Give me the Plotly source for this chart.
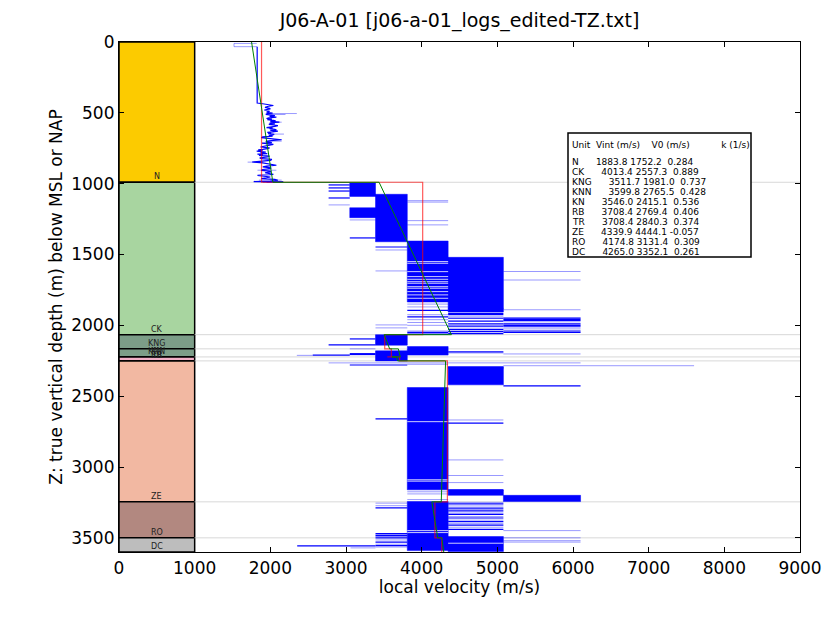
"""
Velocity-depth plot for well J06-A-01: stratigraphic column, sonic-derived
local velocity, interval velocities (Vint) and V0 + k*z trends per unit.
"""

import plotly.graph_objects as go

TITLE = "J06-A-01 [j06-a-01_logs_edited-TZ.txt]"

# stratigraphic units (depth m below MSL, velocity m/s)
unit_names = ["N", "CK", "KNG", "KNN", "KN", "RB", "TR", "ZE", "RO", "DC"]
unit_top = [0, 990, 2066, 2166, 2223, 2223, 2251, 2251, 3246, 3500]
unit_base = [990, 2066, 2166, 2223, 2223, 2251, 2251, 3246, 3500, 3600]
unit_colors = ["#FCCB00", "#A8D5A0", "#7C9D88", "#7C9D88", "#7C9D88",
               "#F2AFC6", "#F2AFC6", "#F2B8A2", "#B28880", "#BDBDBD"]
unit_vint = [1883.8, 4013.4, 3511.7, 3599.8, 3546.0, 3708.4, 3708.4, 4339.9, 4174.8, 4265.0]
unit_v0 = [1752.2, 2557.3, 1981.0, 2765.5, 2415.1, 2769.4, 2840.3, 4444.1, 3131.4, 3352.1]
unit_k = [0.284, 0.889, 0.737, 0.428, 0.536, 0.406, 0.374, -0.057, 0.309, 0.261]

# green V0+k*z trend, velocity read at top and base of each unit
trend_top = [1752, 3437, 3504, 3692, 3607, 3672, 3682, 4316, 4134, 4266]
trend_base = [2033, 4393, 3577, 3717, 3607, 3683, 3682, 4259, 4213, 4292]

# boundaries drawn as light grid lines across the log track
boundaries = [990, 2066, 2166, 2223, 2251, 3246, 3500]

# first faint samples at the top of the log
top_log_depth = [10, 10, 33, 33]
top_log_vel = [1820, 1520, 1520, 1826]

# shallow (N) part of the log, drawn as a line
n_log_depth = [33, 431, 436, 442, 448, 455, 462, 468, 472, 480, 486, 490, 496, 502, 506,
               511, 516, 520, 525, 530, 535, 540, 545, 549, 553, 557, 561, 565, 570, 574,
               578, 582, 586, 590, 596, 600, 604, 608, 612, 616, 620, 624, 629, 634, 638,
               642, 647, 651, 655, 660, 664, 670, 676, 680, 683, 687, 690, 694, 698, 702,
               706, 710, 714, 718, 723, 728, 732, 736, 741, 747, 753, 758, 762, 766, 770,
               774, 777, 781, 784, 788, 792, 796, 800, 806, 812, 818, 823, 829, 835, 841,
               847, 853, 859, 865, 870, 876, 882, 888, 894, 900, 906, 912, 917, 923, 929,
               935, 941, 947, 953, 958, 964, 970, 976, 981, 985, 988, 990]
n_log_vel = [1826, 1826, 1900, 1960, 2040, 1960, 1930, 1990, 2000, 1920, 1980, 1990, 1950,
             2030, 1960, 1940, 2010, 2060, 1990, 2080, 1980, 1950, 2020, 1960, 2040, 2070,
             2000, 2120, 2010, 1990, 2060, 1980, 2040, 2100, 2060, 1990, 1950, 2030, 1990,
             2060, 2080, 2000, 2100, 2030, 1960, 2010, 1970, 2050, 2040, 1980, 2030, 1900,
             1880, 1970, 2010, 2080, 2150, 2040, 2000, 1940, 1960, 2020, 1890, 1960, 2040,
             1990, 1950, 1900, 1870, 1990, 1960, 1900, 1840, 1900, 1820, 1880, 1940, 1870,
             1910, 1960, 1830, 1900, 1850, 1990, 1960, 1860, 1880, 2020, 2000, 1850, 1760,
             1900, 1960, 2060, 2080, 1950, 1900, 2010, 2000, 1900, 1880, 1990, 2010, 1930,
             1990, 2040, 1830, 1920, 2000, 1950, 1880, 2060, 2100, 2000, 1780, 2170, 1900]

# faint spikes of the shallow log
n_spike_z = [505, 512, 566, 650, 700, 848, 905, 975]
n_spike_v0 = [1990, 2000, 2000, 1990, 1950, 1700, 1830, 1850]
n_spike_v1 = [2350, 2200, 2150, 2180, 2150, 1900, 2080, 2150]

# solid blue blocks of the deeper log: top, base, min and max velocity
blk_top = [995, 1075, 1170, 1405, 1520, 1880, 2066, 2180, 2150, 2291, 2439, 3162, 3200, 3244, 3491]
blk_base = [1090, 1410, 1240, 1835, 1880, 1905, 2140, 2251, 2210, 2420, 3161, 3200, 3244, 3590, 3597]
blk_vmin = [3050, 3390, 3050, 3810, 4350, 4350, 3390, 3390, 3810, 4350, 3810, 4350, 5080, 3810, 4350]
blk_vmax = [3390, 3810, 3390, 4350, 5080, 5080, 3810, 3810, 4350, 5080, 4350, 5080, 6100, 4350, 5080]

# single samples swinging between velocity levels (dark strokes)
dark_z = [988, 1009, 1030, 1052, 1101, 1383, 1447,
          1895, 1940, 2050, 2062,
          1915, 1925, 1950, 1970, 1990, 2005, 2030, 2045, 2058,
          1950, 1958, 1966, 1990, 2000, 2010, 2040, 2050,
          2096, 2138, 2200, 2206, 2210, 2188, 2280, 2300,
          2428, 2660, 2690, 3161, 3289,
          3260, 3290, 3310, 3335, 3360, 3385, 3410, 3440,
          3470, 3485, 3500, 3530, 3555, 3557]
dark_v0 = [1950, 2770, 2770, 2770, 2770, 3050, 3390,
           3810, 3810, 3810, 3810,
           4350, 4350, 4350, 4350, 4350, 4350, 4350, 4350, 4350,
           5080, 5080, 5080, 5080, 5080, 5080, 5080, 5080,
           3050, 2770, 3050, 3050, 2560, 4350, 3050, 4350,
           5080, 3390, 4350, 4350, 3390,
           4350, 4350, 4350, 4350, 4350, 4350, 4350, 4350,
           3390, 3390, 3390, 3390, 3390, 2355]
dark_v1 = [2170, 3050, 3050, 3050, 3050, 3390, 3810,
           4350, 4350, 4350, 4350,
           5080, 5080, 5080, 5080, 5080, 5080, 5080, 5080, 5080,
           6100, 6100, 6100, 6100, 6100, 6100, 6100, 6100,
           3390, 3390, 3390, 3390, 3050, 5080, 3810, 5080,
           6100, 3810, 5080, 5080, 3810,
           5080, 5080, 5080, 5080, 5080, 5080, 5080, 5080,
           3810, 3810, 3810, 3810, 3810, 3390]

# faint strokes
light_z = [992, 1120, 1130, 1261, 1291, 1150, 1256, 1468, 1616, 1997, 2018,
           1620, 1680, 1890, 1850, 1870, 1925, 1960, 1980, 2000, 2040,
           1885, 1940, 2020, 1945, 1975, 2025,
           2166, 2212, 2195, 2202, 2265, 2275, 2285,
           2668, 2950, 3060, 3110, 3175, 3190, 3230,
           3255, 3273, 3250, 3275, 3300, 3325, 3350, 3375, 3400, 3425,
           3449, 3500, 3520, 3530, 3478, 3492, 3515, 3545, 3565, 3571]
light_v0 = [2170, 3810, 3810, 3810, 3810, 2770, 3050, 3390, 3390, 3390, 3390,
            5080, 5080, 5080, 3810, 3810, 3810, 3810, 3810, 3810, 3810,
            4350, 4350, 4350, 5080, 5080, 5080,
            3050, 2350, 4350, 5080, 2770, 3810, 5080,
            4350, 4350, 4350, 4350, 3810, 3810, 3810,
            3390, 3390, 4350, 4350, 4350, 4350, 4350, 4350, 4350, 4350,
            5080, 5080, 5080, 5080, 3390, 3390, 3390, 3390, 3390, 3060]
light_v1 = [3400, 4350, 4350, 4350, 4350, 3050, 3390, 3810, 3810, 3810, 3810,
            6100, 6100, 6100, 4350, 4350, 4350, 4350, 4350, 4350, 4350,
            5080, 5080, 5080, 6100, 6100, 6100,
            3390, 2560, 5080, 6100, 6100, 4350, 7600,
            5080, 5080, 5080, 5080, 4350, 4350, 4350,
            3810, 3810, 5080, 5080, 5080, 5080, 5080, 5080, 5080, 5080,
            6100, 6100, 6100, 6100, 3810, 3810, 3810, 3810, 3810, 3390]

# white gaps inside the solid blocks
gap_z = [1550, 1562, 1621, 1656, 1675, 1692, 1703, 1727, 1738, 1762, 1785, 1809,
         2160, 2680, 3090, 3100, 3449, 3463, 3538]
gap_v0 = [3810] * 12 + [3390, 3810, 3810, 3810, 3810, 3810, 4350]
gap_v1 = [4350] * 12 + [3810, 4350, 4350, 4350, 4350, 4350, 5080]

COLUMN_WIDTH = 1000
X_MAX = 9000
FONT = "DejaVu Sans"
LOG_BLUE = "#0000FF"
FAINT_BLUE = "rgba(0,0,255,0.4)"


def hsegs(zs, v0s, v1s):
    xs, ys = [], []
    for z, a, b in zip(zs, v0s, v1s):
        xs += [a, b, None]
        ys += [z, z, None]
    return xs, ys


def rects(tops, bases, vmins, vmaxs):
    xs, ys = [], []
    for t, b, a, c in zip(tops, bases, vmins, vmaxs):
        xs += [a, c, c, a, a, None]
        ys += [t, t, b, b, t, None]
    return xs, ys


def add_lines(fig, xs, ys, color, width):
    fig.add_trace(go.Scatter(x=xs, y=ys, mode="lines",
                             line=dict(color=color, width=width), hoverinfo="skip"))


fig = go.Figure()

# stratigraphic column
for name, top, base, col in zip(unit_names, unit_top, unit_base, unit_colors):
    fig.add_trace(go.Scatter(
        x=[0, COLUMN_WIDTH, COLUMN_WIDTH, 0, 0], y=[top, top, base, base, top],
        mode="lines", fill="toself", fillcolor=col,
        line=dict(color="black", width=1.5), hoverinfo="skip"))
    fig.add_annotation(x=COLUMN_WIDTH / 2, y=base, text=name, showarrow=False,
                       yanchor="bottom", yshift=-1,
                       font=dict(family=FONT, size=8, color="#222"))

# boundary grid lines on the log track
gx, gy = hsegs(boundaries, [COLUMN_WIDTH] * len(boundaries), [X_MAX] * len(boundaries))
add_lines(fig, gx, gy, "#D8D8D8", 1)

# log
bx, by = rects(blk_top, blk_base, blk_vmin, blk_vmax)
fig.add_trace(go.Scatter(x=bx, y=by, mode="lines", fill="toself", fillcolor=LOG_BLUE,
                         line=dict(color=LOG_BLUE, width=0.5), hoverinfo="skip"))
add_lines(fig, *hsegs(light_z, light_v0, light_v1), FAINT_BLUE, 1)
add_lines(fig, *hsegs(n_spike_z, n_spike_v0, n_spike_v1), FAINT_BLUE, 1)
add_lines(fig, top_log_vel, top_log_depth, FAINT_BLUE, 1)
add_lines(fig, *hsegs(dark_z, dark_v0, dark_v1), LOG_BLUE, 1.2)
add_lines(fig, *hsegs(gap_z, gap_v0, gap_v1), "rgba(255,255,255,0.8)", 1)
add_lines(fig, n_log_vel, n_log_depth, LOG_BLUE, 1.2)

# interval velocity (red) and linear trend (green)
rx, ry, tx, ty = [], [], [], []
for top, base, vi, v_top, v_base in zip(unit_top, unit_base, unit_vint, trend_top, trend_base):
    rx += [vi, vi]
    ry += [top, base]
    tx += [v_top, v_base]
    ty += [top, base]
add_lines(fig, rx, ry, "rgba(255,0,0,0.65)", 1.2)
add_lines(fig, tx, ty, "#008000", 1)

# parameter table (positions in reference pixels)
BOX_L, BOX_T, BOX_R, BOX_B = 568, 133, 751, 257
PLOT_L, PLOT_T, PLOT_W, PLOT_H = 119, 42, 681, 510
PAGE_PAD = 8  # the browser page adds an 8px body margin


def px(x):
    return (x - PLOT_L) / PLOT_W


def py(y):
    return 1 - (y - PLOT_T) / PLOT_H


fig.add_shape(type="rect", xref="paper", yref="paper",
              x0=px(BOX_L), x1=px(BOX_R), y0=py(BOX_B), y1=py(BOX_T),
              fillcolor="white", line=dict(color="black", width=1.5), layer="above")
nb = "\u00a0"
header = "Unit" + nb * 2 + "Vint (m/s)" + nb * 4 + "V0 (m/s)" + nb * 11 + "k (1/s)"
rows = [header.replace(" ", nb), ""]
for name, vi, v0, k in zip(unit_names, unit_vint, unit_v0, unit_k):
    rows.append((f"{name}" + " " * 6 + f"{vi:.1f} {v0:.1f} {k:6.3f}").replace(" ", nb))
row_y = [145, 153] + [162 + 10 * i for i in range(len(unit_names))]
for text, y in zip(rows, row_y):
    if text:
        fig.add_annotation(xref="paper", yref="paper", x=px(BOX_L + 2), y=py(y),
                           xanchor="left", yanchor="middle", text=text, showarrow=False,
                           font=dict(family=FONT, size=9, color="black"))

axis_common = dict(showline=True, linecolor="black", linewidth=1.2, mirror="ticks",
                   ticks="inside", ticklen=5, tickcolor="black", showgrid=False,
                   zeroline=False, tickfont=dict(family=FONT, size=17, color="black"))

fig_w, fig_h = 840 - PAGE_PAD, 630 - PAGE_PAD
fig.update_layout(
    width=fig_w, height=fig_h,
    margin=dict(l=PLOT_L - PAGE_PAD, r=840 - PLOT_L - PLOT_W,
                t=PLOT_T - PAGE_PAD, b=630 - PLOT_T - PLOT_H),
    paper_bgcolor="white", plot_bgcolor="white",
    showlegend=False,
    title=dict(text=TITLE, x=(459.5 - PAGE_PAD) / fig_w, xanchor="center",
               y=1 - (20 - PAGE_PAD) / fig_h, yanchor="middle",
               font=dict(family=FONT, size=19, color="black")),
    xaxis=dict(range=[0, X_MAX], dtick=1000,
               title=dict(text="local velocity (m/s)", standoff=3,
                          font=dict(family=FONT, size=17, color="black")),
               **axis_common),
    yaxis=dict(range=[3600, 0], dtick=500,
               title=dict(text="Z: true vertical depth (m) below MSL or NAP", standoff=4,
                          font=dict(family=FONT, size=17, color="black")),
               **axis_common),
)

fig.write_html("out.html")
